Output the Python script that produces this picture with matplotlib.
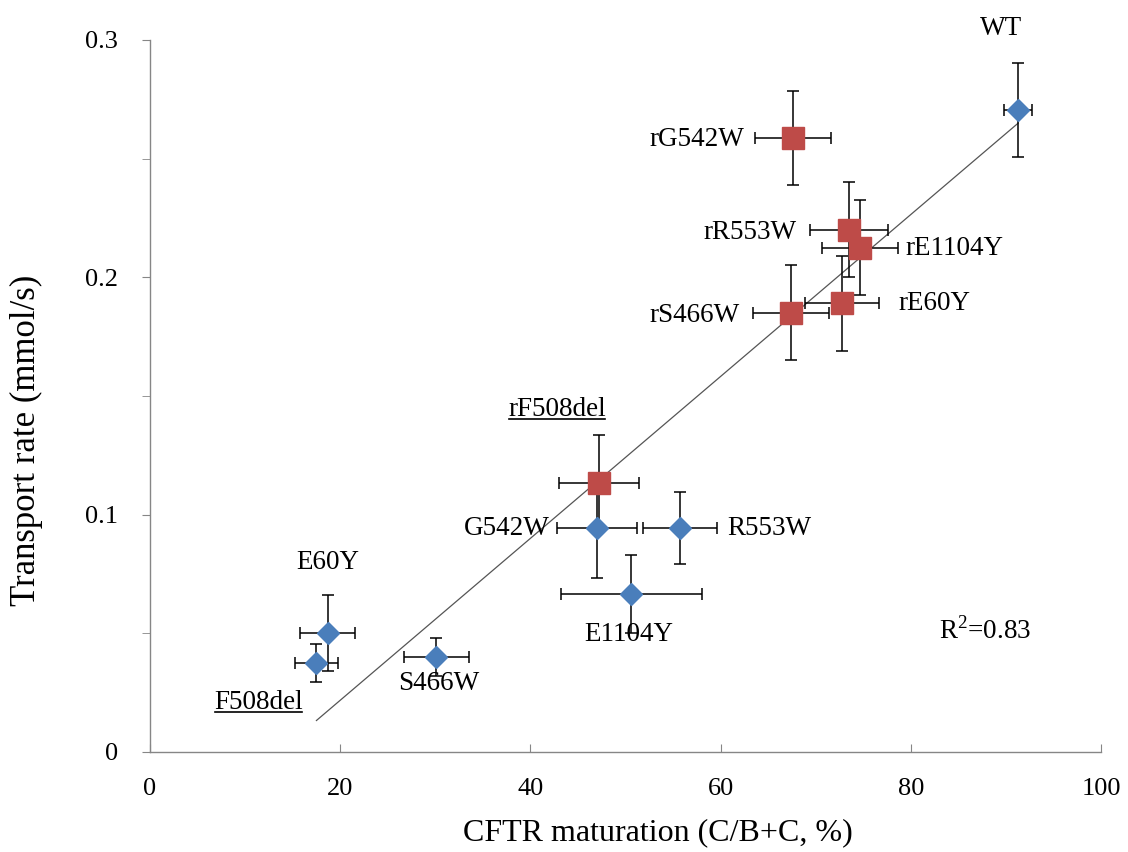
import numpy as np
import matplotlib.pyplot as plt

plt.rcParams['font.family'] = ['Liberation Serif', 'DejaVu Serif']
plt.rcParams['mathtext.fontset'] = 'custom'
plt.rcParams['mathtext.rm'] = 'Liberation Serif'

# blue diamonds: original mutants (+ WT)
names_b = ['WT', 'G542W', 'R553W', 'E1104Y', 'E60Y', 'F508del', 'S466W']
x_b = np.array([91.3, 47.0, 55.7, 50.6, 18.7, 17.5, 30.1])
y_b = np.array([0.2705, 0.0944, 0.0944, 0.0666, 0.0501, 0.0375, 0.0400])
xerr_b = np.array([1.5, 4.2, 3.9, 7.4, 2.9, 2.3, 3.4])
yerr_b = np.array([0.020, 0.021, 0.015, 0.0165, 0.016, 0.008, 0.008])

# red squares: revertants
names_r = ['rG542W', 'rR553W', 'rE1104Y', 'rE60Y', 'rS466W', 'rF508del']
x_r = np.array([67.6, 73.5, 74.7, 72.8, 67.4, 47.2])
y_r = np.array([0.2587, 0.2200, 0.2124, 0.1890, 0.1850, 0.1134])
xerr_r = np.array([4.0, 4.1, 4.0, 3.9, 4.0, 4.2])
yerr_r = np.array([0.020, 0.020, 0.020, 0.020, 0.020, 0.020])

fig = plt.figure(figsize=(11.28, 8.52), dpi=100)
ax = fig.add_axes([0.133, 0.1174, 0.843, 0.8357])

# linear trendline over all points
xa = np.concatenate([x_b, x_r])
ya = np.concatenate([y_b, y_r])
k, b = np.polyfit(xa, ya, 1)
xl = np.array([xa.min(), xa.max()])
ax.plot(xl, k * xl + b, color='#555555', lw=0.9, zorder=1)

ekw = dict(fmt='none', ecolor='black', elinewidth=1.1, capsize=4.5, capthick=1.1, zorder=2)
ax.errorbar(x_b, y_b, xerr=xerr_b, yerr=yerr_b, **ekw)
ax.errorbar(x_r, y_r, xerr=xerr_r, yerr=yerr_r, **ekw)
ax.plot(x_b, y_b, 'D', ms=11.5, color='#4A7EBB', mec='#4A7EBB', zorder=3)
ax.plot(x_r, y_r, 's', ms=15.5, color='#BE4B48', mec='#BE4B48', zorder=3)

fs = 19.5
ax.text(89.5, 0.305, 'WT', fontsize=fs, ha='center', va='center', clip_on=False)
ax.text(62.5, 0.258, 'rG542W', fontsize=fs, ha='right', va='center')
ax.text(68.0, 0.219, 'rR553W', fontsize=fs, ha='right', va='center')
ax.text(79.4, 0.212, 'rE1104Y', fontsize=fs, ha='left', va='center')
ax.text(78.7, 0.189, 'rE60Y', fontsize=fs, ha='left', va='center')
ax.text(62.0, 0.184, 'rS466W', fontsize=fs, ha='right', va='center')
t1 = ax.text(42.8, 0.1445, 'rF508del', fontsize=fs, ha='center', va='center')
ax.text(42.0, 0.094, 'G542W', fontsize=fs, ha='right', va='center')
ax.text(60.7, 0.094, 'R553W', fontsize=fs, ha='left', va='center')
ax.text(50.3, 0.0493, 'E1104Y', fontsize=fs, ha='center', va='center')
ax.text(18.7, 0.0797, 'E60Y', fontsize=fs, ha='center', va='center')
t2 = ax.text(11.4, 0.021, 'F508del', fontsize=fs, ha='center', va='center')
ax.text(30.4, 0.0287, 'S466W', fontsize=fs, ha='center', va='center')
ax.text(87.8, 0.051, 'R$^2$=0.83', fontsize=fs, ha='center', va='center')

ax.set_xlim(0, 100)
ax.set_ylim(0, 0.3)
ax.set_xticks([0, 20, 40, 60, 80, 100])
ax.set_yticks([0, 0.1, 0.2, 0.3])
ax.set_yticklabels(['0', '0.1', '0.2', '0.3'])
ax.set_yticks([0.05, 0.15, 0.25], minor=True)

for s in ['top', 'right']:
    ax.spines[s].set_visible(False)
for s in ['left', 'bottom']:
    ax.spines[s].set_color('#868686')
    ax.spines[s].set_linewidth(1.0)
ax.tick_params(axis='x', direction='in', length=6, color='#868686', labelsize=19, pad=19)
ax.tick_params(axis='y', which='both', direction='out', length=6, color='#868686', labelsize=19, pad=17)

ax.set_xlabel('CFTR maturation (C/B+C, %)', fontsize=23)
ax.set_ylabel('Transport rate (mmol/s)', fontsize=25)
ax.xaxis.set_label_coords(0.534, -0.093)
ax.yaxis.set_label_coords(-0.113, 0.437)

# underline the two F508del labels
fig.canvas.draw()
r = fig.canvas.get_renderer()
for t in (t1, t2):
    bb = t.get_window_extent(renderer=r)
    yy = bb.y0 + 3
    fig.add_artist(plt.Line2D([bb.x0 + 1, bb.x1 - 1], [yy, yy], transform=None,
                              color='black', lw=1.2))

fig.savefig('out.png', dpi=100)
